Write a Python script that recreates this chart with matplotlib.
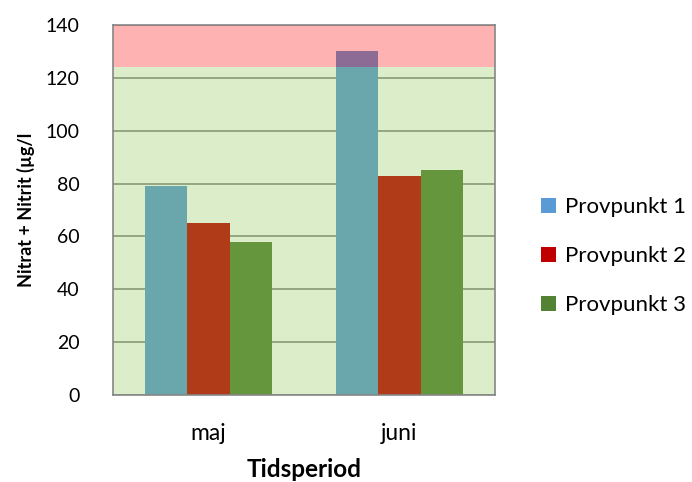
import numpy as np
import matplotlib.pyplot as plt
from matplotlib.patches import Rectangle

plt.rcParams['font.family'] = ['Lato', 'DejaVu Sans']

periods = ['maj', 'juni']
series = ['Provpunkt 1', 'Provpunkt 2', 'Provpunkt 3']
values = [
    [79, 130],   # Provpunkt 1
    [65, 83],    # Provpunkt 2
    [58, 85],    # Provpunkt 3
]
colors = ['#5b9bd5', '#c00000', '#548235']
limit = 124
ymax = 140

fig = plt.figure(figsize=(6.92, 4.82), dpi=100)
ax = fig.add_axes([113/692, 1-395/482, 382/692, 370/482])

x = np.arange(len(periods))
w = 0.221
for i, (name, vals, c) in enumerate(zip(series, values, colors)):
    ax.bar(x + (i - 1) * w, vals, w, color=c, label=name, zorder=2)

# limit bands drawn on top with transparency
ax.add_patch(Rectangle((-0.5, 0), 2, limit, color=(142/255, 198/255, 82/255),
                       alpha=0.3, lw=0, zorder=3))
ax.add_patch(Rectangle((-0.5, limit), 2, ymax - limit, color='red',
                       alpha=0.3, lw=0, zorder=3))

ax.set_xlim(-0.5, 1.5)
ax.set_ylim(0, ymax)
ax.set_yticks(range(0, 141, 20))
ax.set_xticks(x)
ax.set_xticklabels(periods)
ax.yaxis.grid(True, color='#868686', lw=1.2, zorder=1)
ax.set_axisbelow(True)
ax.tick_params(axis='both', length=0, labelcolor='#000000')
ax.tick_params(axis='y', pad=24, labelsize=14)
ax.tick_params(axis='x', pad=20, labelsize=16.5)
for s in ax.spines.values():
    s.set_color('#868686')
    s.set_linewidth(1.2)
    s.set_zorder(4)

ax.set_ylabel('Nitrat + Nitrit (µg/l', fontsize=13, fontweight='bold', labelpad=8)
ax.set_xlabel('Tidsperiod', fontsize=17.5, fontweight='bold', labelpad=10)

ax.legend(loc='center left', bbox_to_anchor=(521/692, 1-256/482),
          bbox_transform=fig.transFigure, frameon=False, fontsize=16,
          handlelength=0.66, handleheight=0.66, handletextpad=0.4,
          labelspacing=1.3)

fig.savefig('out.png', dpi=100)
